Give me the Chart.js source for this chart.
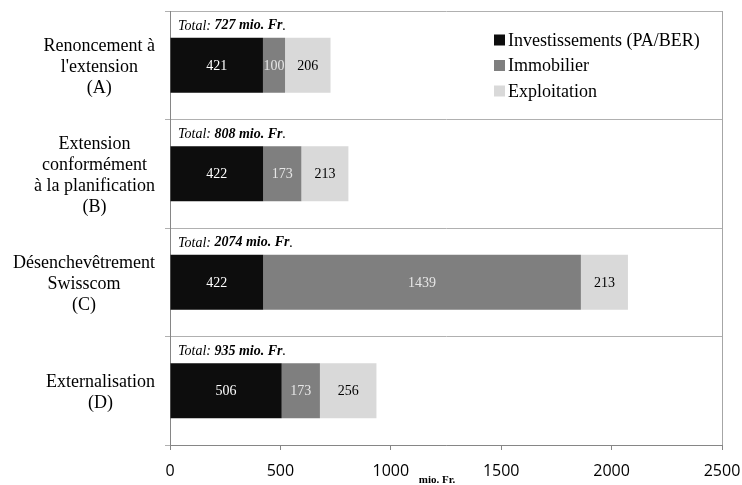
<!DOCTYPE html>
<html lang="fr">
<head>
<meta charset="UTF-8">
<title>Coûts par variante</title>
<script src="https://cdn.jsdelivr.net/npm/chart.js@4.4.1/dist/chart.umd.min.js"></script>
<style>
  html, body { margin: 0; padding: 0; background: #fff; }
  canvas { display: block; }
</style>
</head>
<body>
<canvas id="chart" width="742" height="485"></canvas>
<script>
// data
const categories = [
  ['Renoncement à', "l'extension", '(A)'],
  ['Extension', 'conformément', 'à la planification', '(B)'],
  ['Désenchevêtrement', 'Swisscom', '(C)'],
  ['Externalisation', '(D)']
];
const seriesNames = ['Investissements (PA/BER)', 'Immobilier', 'Exploitation'];
const investissements = [421, 422, 422, 506];
const immobilier = [100, 173, 1439, 173];
const exploitation = [206, 213, 213, 256];
const xTicks = [0, 500, 1000, 1500, 2000, 2500];
const unit = 'mio. Fr.';

const colors = ['#0d0d0d', '#7f7f7f', '#d9d9d9'];
const valueColors = ['#ffffff', '#e6e6e6', '#000000'];
const serif = '"Liberation Serif", "Times New Roman", serif';

const extras = {
  id: 'extras',
  afterDatasetsDraw(chart) {
    const ctx = chart.ctx;
    const y = chart.scales.y;
    ctx.save();

    // values inside the segments
    ctx.font = '14px ' + serif;
    ctx.textAlign = 'center';
    ctx.textBaseline = 'middle';
    chart.data.datasets.forEach((ds, i) => {
      chart.getDatasetMeta(i).data.forEach((bar, j) => {
        ctx.fillStyle = valueColors[i];
        ctx.fillText(ds.data[j], (bar.x + bar.base) / 2, bar.y + 1);
      });
    });

    // totals above each bar
    ctx.textAlign = 'left';
    ctx.fillStyle = '#000';
    chart.getDatasetMeta(0).data.forEach((bar, j) => {
      const total = chart.data.datasets.reduce((s, ds) => s + ds.data[j], 0);
      const ty = bar.y - bar.height / 2 - 12;
      let tx = chart.chartArea.left + 8;
      ctx.font = 'italic 14px ' + serif;
      ctx.fillText('Total: ', tx, ty);
      tx += ctx.measureText('Total: ').width;
      ctx.font = 'italic bold 14px ' + serif;
      const bold = total + ' mio. Fr';
      ctx.fillText(bold, tx, ty);
      tx += ctx.measureText(bold).width;
      ctx.font = 'italic 14px ' + serif;
      ctx.fillText('.', tx, ty);
    });

    // category labels: lines centred, block right aligned
    ctx.font = '18px ' + serif;
    ctx.textAlign = 'center';
    const lh = 21;
    categories.forEach((lines, j) => {
      const yc = y.getPixelForValue(j) + 2;
      const w = Math.max(...lines.map(l => ctx.measureText(l).width));
      const cx = 155 - w / 2;
      lines.forEach((l, k) => {
        ctx.fillText(l, cx, yc + (k - (lines.length - 1) / 2) * lh);
      });
    });

    // legend
    ctx.textAlign = 'left';
    seriesNames.forEach((name, i) => {
      const ly = 40 + i * 25.5;
      ctx.fillStyle = colors[i];
      ctx.fillRect(494, ly - 5.5, 11, 11);
      ctx.fillStyle = '#000';
      ctx.fillText(name, 508, ly + 1);
    });

    // unit under the axis
    ctx.font = 'bold 11px ' + serif;
    ctx.textAlign = 'center';
    ctx.fillText(unit, 437, 480);

    ctx.restore();
  }
};

new Chart(document.getElementById('chart'), {
  type: 'bar',
  data: {
    labels: categories,
    datasets: [
      { label: seriesNames[0], data: investissements, backgroundColor: colors[0] },
      { label: seriesNames[1], data: immobilier, backgroundColor: colors[1] },
      { label: seriesNames[2], data: exploitation, backgroundColor: colors[2] }
    ]
  },
  options: {
    indexAxis: 'y',
    responsive: false,
    animation: false,
    categoryPercentage: 1,
    barPercentage: 0.505,
    layout: { padding: { top: 11, right: 20, left: 0, bottom: 0 } },
    plugins: { legend: { display: false }, tooltip: { enabled: false } },
    scales: {
      x: {
        stacked: true,
        min: 0,
        max: 2500,
        afterBuildTicks: s => { s.ticks = xTicks.map(v => ({ value: v })); },
        ticks: {
          color: '#000',
          padding: 12,
          font: { family: '"Open Sans"', size: 16 },
          callback: v => String(v)
        },
        grid: {
          color: c => (c.tick && c.tick.value === 2500 ? '#a6a6a6' : 'rgba(0,0,0,0)'),
          tickColor: '#868686',
          tickLength: 5
        },
        border: { color: '#868686' },
        afterFit: s => { s.height = 40; s.paddingLeft = 0; s.paddingRight = 0; }
      },
      y: {
        stacked: true,
        ticks: { display: false },
        grid: { color: '#b0b0b0', tickLength: 5, offset: true },
        border: { color: '#868686' },
        afterFit: s => { s.width = 170; }
      }
    }
  },
  plugins: [extras]
});
</script>
</body>
</html>
